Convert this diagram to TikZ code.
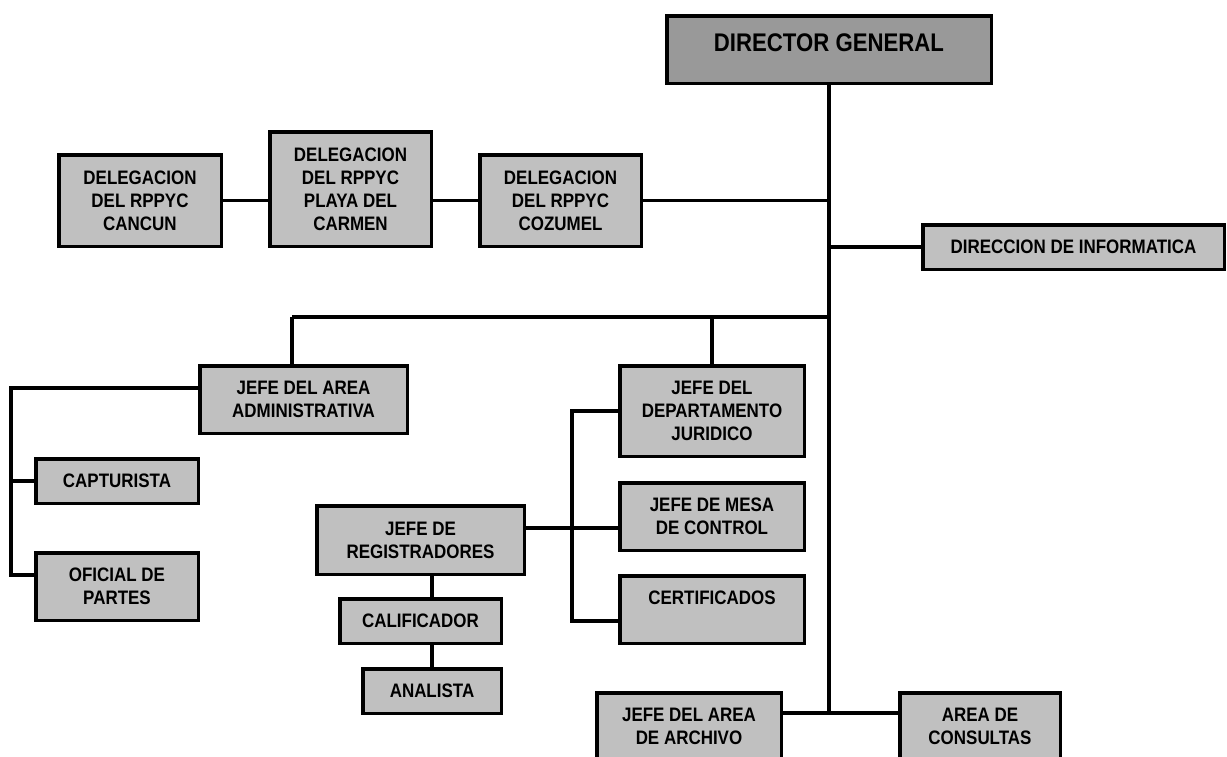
\documentclass[tikz,border=0pt]{standalone}
\usepackage{fontspec}
\usepackage{tikz}
\usetikzlibrary{positioning}
\newfontfamily\orgfont{Liberation Sans}[FakeStretch=0.87]
\definecolor{boxgray}{HTML}{C0C0C0}
\definecolor{dggray}{HTML}{999999}
\tikzset{
  orgbox/.style={draw, line width=3.5pt, fill=boxgray, inner sep=0pt, align=center,
    font=\orgfont\bfseries\fontsize{19.5}{23}\selectfont},
  link/.style={line width=3.5pt}
}

\begin{document}
\begin{tikzpicture}[x=1pt, y=-1pt, node distance=23pt]
			\useasboundingbox (0,0) rectangle (1227,756);
			\node[orgbox, fill=dggray, minimum width=324.5, minimum height=67.5, text depth=14pt,
			  font=\orgfont\bfseries\fontsize{25.5}{30}\selectfont] (dg) at (829,49.5) {DIRECTOR GENERAL};
			\node[orgbox, minimum width=162.5, minimum height=91.5] (cancun) at (140,200.5) {DELEGACION\\DEL RPPYC\\CANCUN};
			\node[orgbox, minimum width=161.5, minimum height=114.5] (playa) at (350.5,189) {DELEGACION\\DEL RPPYC\\PLAYA DEL\\CARMEN};
			\node[orgbox, minimum width=161.5, minimum height=91.5] (coz) at (560.5,200.5) {DELEGACION\\DEL RPPYC\\COZUMEL};
			\node[orgbox, minimum width=301.5, minimum height=44.5] (inf) at (1073.5,247) {DIRECCION DE INFORMATICA};
			\node[orgbox, minimum width=207.5, minimum height=67.5] (adm) at (303.5,399.5) {JEFE DEL AREA\\ADMINISTRATIVA};
			\node[orgbox, minimum width=184.5, minimum height=90.5] (jur) at (712,411) {JEFE DEL\\DEPARTAMENTO\\JURIDICO};
			\node[orgbox, minimum width=184.5, minimum height=67.5, below=23pt of jur] (mesa) {JEFE DE MESA\\DE CONTROL};
			\node[orgbox, minimum width=184.5, minimum height=67.5, below=22pt of mesa] (cert) {CERTIFICADOS\\~};
			\node[orgbox, minimum width=162.5, minimum height=44.5] (cap) at (117,481) {CAPTURISTA};
			\node[orgbox, minimum width=162.5, minimum height=67.5] (ofi) at (117,586.5) {OFICIAL DE\\PARTES};
			\node[orgbox, minimum width=207.5, minimum height=68.5] (reg) at (420.5,540) {JEFE DE\\REGISTRADORES};
			\node[orgbox, minimum width=161.5, minimum height=44.5, below=21pt of reg] (cal) {CALIFICADOR};
			\node[orgbox, minimum width=138.5, minimum height=44.5] (ana) at (432,691) {ANALISTA};
			\node[orgbox, minimum width=184.5, minimum height=66.5] (arch) at (689,726) {JEFE DEL AREA\\DE ARCHIVO};
			\node[orgbox, minimum width=160.5, minimum height=66.5] (cons) at (980,726) {AREA DE\\CONSULTAS};
			\coordinate (bot) at (829,713);
			\coordinate (hl) at (292,317);
			\coordinate (lb) at (11,388);
			\coordinate (ob) at (11,575);
			\coordinate (rb) at (572,528);
			\coordinate (cb) at (572,621);
			\draw[link] (dg) -- (bot);
			\draw[link] (arch.east |- bot) -- (cons.west |- bot);
			\draw[link] (cancun) -- (cancun -| playa.west);
			\draw[link] (playa.east |- cancun) -- (coz);
			\draw[link] (coz) -- (coz -| dg);
			\draw[link] (inf) -- (inf -| dg);
			\draw[link] (hl) -- (hl -| dg);
			\draw[link] (hl) -- (hl |- adm.north);
			\draw[link] (jur) -- (jur |- hl);
			\draw[link] (adm.west |- lb) -- (lb) -- (ob) -- (ofi.west |- ob);
			\draw[link] (cap) -- (cap -| lb);
			\draw[link] (reg.east |- rb) -- (mesa.west |- rb);
			\draw[link] (jur) -| (cb) -- (cert.west |- cb);
			\draw[link] (ana.north |- reg.south) -- (ana.north |- cal.north);
			\draw[link] (ana.north |- cal.south) -- (ana);
		\end{tikzpicture}
\end{document}
